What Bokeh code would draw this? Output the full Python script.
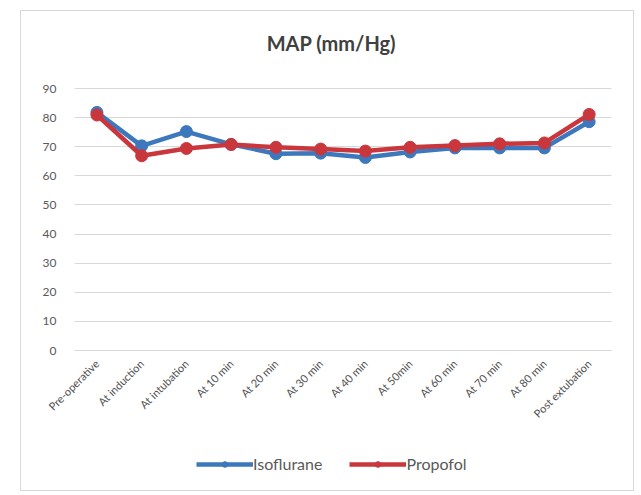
import math
from bokeh.plotting import figure
from bokeh.models import Range1d, Legend, LegendItem, Label, ColumnDataSource, FixedTicker, Grid
from bokeh.core.properties import value
from bokeh.embed import file_html
from bokeh.resources import INLINE

categories = ["Pre-operative", "At induction", "At intubation", "At 10 min", "At 20 min",
              "At 30 min", "At 40 min", "At 50min", "At 60 min", "At 70 min", "At 80 min",
              "Post extubation"]
isoflurane = [81.8, 70.3, 75.2, 70.8, 67.6, 67.8, 66.3, 68.2, 69.6, 69.6, 69.6, 78.6]
propofol = [80.9, 66.9, 69.4, 70.8, 69.8, 69.2, 68.5, 69.8, 70.4, 71.0, 71.3, 81.1]
y_ticks = [0, 10, 20, 30, 40, 50, 60, 70, 80, 90]
title_text = "MAP (mm/Hg)"

FONT = "Lato"
BLUE = "#3D78BC"
RED = "#C9373D"

pos = list(range(len(categories)))          # category slots on the x scale
cat_lo, cat_hi = pos[0] - 0.5, pos[-1] + 0.5  # outer edges of the category band

p = figure(width=614, height=481, x_range=Range1d(-1.283, 11.879), y_range=Range1d(-46.37, 114.05),
           output_backend="svg", toolbar_location=None,
           min_border_left=18, min_border_right=7, min_border_top=7, min_border_bottom=7)
p.margin = (10, 0, 0, 20)
p.styles = {"border": "1px solid #d9d9d9", "box-sizing": "border-box"}
p.outline_line_color = None
p.background_fill_color = "white"
p.border_fill_color = "white"
p.xaxis.visible = False
p.yaxis.visible = False
p.xgrid.grid_line_color = None

# horizontal gridlines across the category band only
if "cross_bounds" in Grid.properties():
    p.ygrid.ticker = FixedTicker(ticks=y_ticks)
    p.ygrid.cross_bounds = (cat_lo, cat_hi)
    p.ygrid.grid_line_color = "#d9d9d9"
    p.ygrid.grid_line_width = 1
else:
    p.ygrid.grid_line_color = None
    p.segment(x0=[cat_lo] * len(y_ticks), x1=[cat_hi] * len(y_ticks), y0=y_ticks, y1=y_ticks,
              line_color="#d9d9d9", line_width=1)

# y tick labels
ysrc = ColumnDataSource(dict(x=[cat_lo] * len(y_ticks), y=y_ticks, t=[str(v) for v in y_ticks]))
p.text(x="x", y="y", text="t", source=ysrc, text_align="right", text_baseline="middle",
       x_offset=-18, text_font=value(FONT), text_font_size="12px", text_color="#595959")

# category labels along the 0 line
lab_src = ColumnDataSource(dict(x=pos, y=[0] * len(categories), t=categories))
p.text(x="x", y="y", text="t", source=lab_src, angle=math.pi / 4, text_align="right",
       text_baseline="middle", x_offset=0, y_offset=11, text_font=value(FONT),
       text_font_size="11px", text_color="#505050")

l1 = p.line(pos, isoflurane, line_color=BLUE, line_width=4.5)
c1 = p.scatter(pos, isoflurane, size=12, fill_color=BLUE, line_color=BLUE)
l2 = p.line(pos, propofol, line_color=RED, line_width=4.5)
c2 = p.scatter(pos, propofol, size=12, fill_color=RED, line_color=RED)

p.add_layout(Label(x=5.24, y=105.6, text=title_text, text_align="center", text_baseline="middle",
                   text_font=FONT, text_font_size="20px", text_font_style="bold",
                   text_color="#404040"))

legend = Legend(items=[LegendItem(label="Isoflurane", renderers=[l1, c1]),
                       LegendItem(label="Propofol", renderers=[l2, c2])],
                orientation="horizontal", location=(157, 12),
                glyph_width=57, glyph_height=14, label_standoff=0, spacing=27,
                padding=0, margin=0, border_line_color=None, background_fill_alpha=0,
                label_text_font=FONT, label_text_font_size="16px", label_text_color="#595959")
p.add_layout(legend, "center")

open("out.html", "w").write(file_html(p, INLINE))
